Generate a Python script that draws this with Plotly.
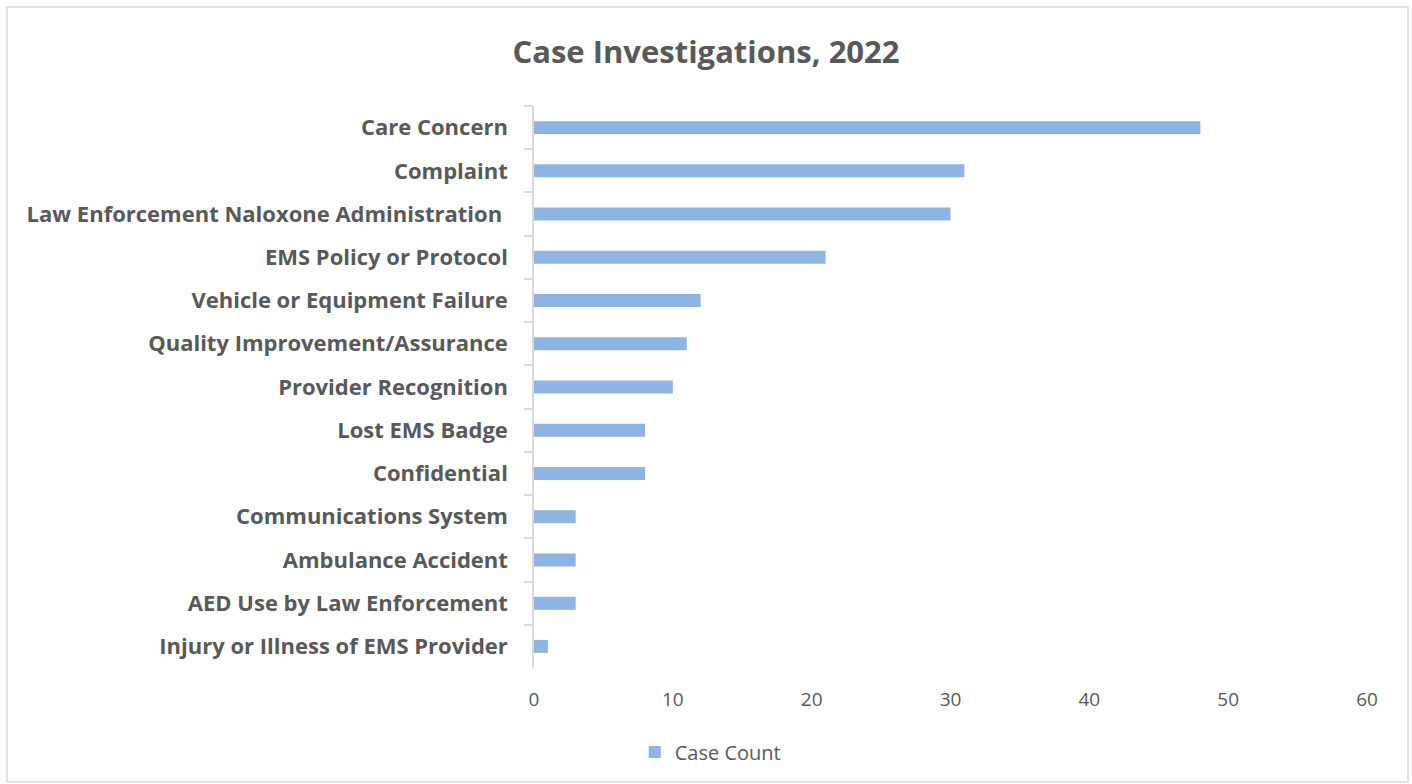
import plotly.graph_objects as go

categories = [
    "Care Concern",
    "Complaint",
    "Law Enforcement Naloxone Administration ",
    "EMS Policy or Protocol",
    "Vehicle or Equipment Failure",
    "Quality Improvement/Assurance",
    "Provider Recognition",
    "Lost EMS Badge",
    "Confidential",
    "Communications System",
    "Ambulance Accident",
    "AED Use by Law Enforcement",
    "Injury or Illness of EMS Provider",
]
case_count = [48, 31, 30, 21, 12, 11, 10, 8, 8, 3, 3, 3, 1]
x_ticks = [0, 10, 20, 30, 40, 50, 60]

W, H = 1412, 784
ML, MR, MT, MB = 534, 45, 106, 116
pw = W - ML - MR
ph = H - MT - MB

def px_x(p):
    return (p - ML) / pw

def px_y(p):
    return (H - MB - p) / ph

fig = go.Figure(
    go.Bar(
        x=case_count,
        y=categories,
        orientation="h",
        name="Case Count",
        marker=dict(color="#8eb4e3", line=dict(width=0)),
        width=0.3,
        showlegend=True,
    )
)

fig.update_layout(
    width=W,
    height=H,
    margin=dict(l=ML, r=MR, t=MT, b=MB),
    paper_bgcolor="white",
    plot_bgcolor="white",
    font=dict(family="Open Sans", color="#595959"),
    title=dict(
        text="<b>Case Investigations, 2022</b>",
        x=0.5,
        xref="container",
        xanchor="center",
        y=1 - 52 / H,
        yref="container",
        yanchor="middle",
        font=dict(size=31, color="#595959", family="Open Sans"),
    ),
    showlegend=True,
    legend=dict(
        orientation="h",
        x=0.503,
        xref="container",
        xanchor="center",
        y=1 - 752 / H,
        yref="container",
        yanchor="middle",
        font=dict(size=20, color="#595959"),
        itemsizing="constant",
        itemwidth=30,
    ),
    shapes=[
        dict(
            type="rect",
            xref="paper",
            yref="paper",
            x0=px_x(7),
            x1=px_x(1408),
            y0=px_y(782),
            y1=px_y(7),
            line=dict(color="#d9d9d9", width=1.5),
            fillcolor="rgba(0,0,0,0)",
            layer="below",
        )
    ],
)

fig.update_xaxes(
    range=[0, 60],
    tickvals=x_ticks,
    showgrid=False,
    zeroline=False,
    showline=False,
    ticks="",
    tickfont=dict(size=19, color="#595959"),
    ticklabelstandoff=18,
)

fig.update_yaxes(
    autorange="reversed",
    showgrid=False,
    showline=True,
    linecolor="#d9d9d9",
    linewidth=1.5,
    ticks="outside",
    tickson="boundaries",
    ticklen=8,
    tickcolor="#d9d9d9",
    tickwidth=1.5,
    ticklabelstandoff=20,
    tickfont=dict(size=22, color="#595959", family="Open Sans", weight="bold"),
)

fig.write_html("out.html")
